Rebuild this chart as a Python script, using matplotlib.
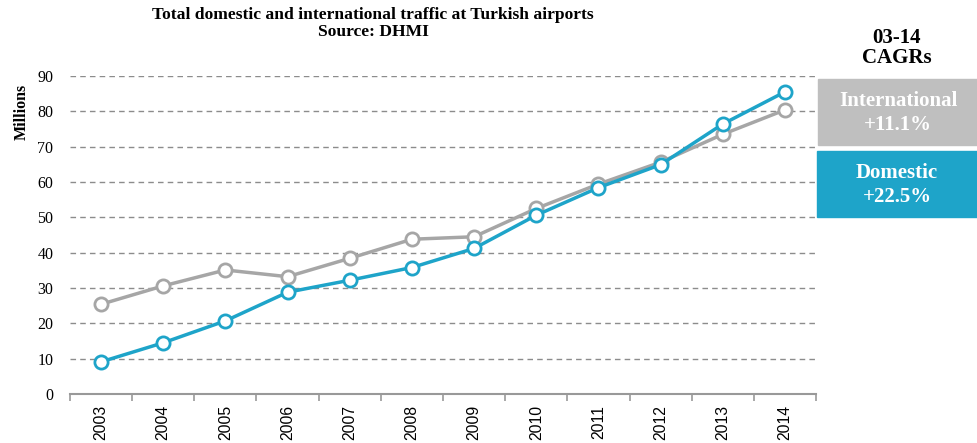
import matplotlib
matplotlib.use("Agg")
import matplotlib.pyplot as plt
from matplotlib.patches import Rectangle
import numpy as np

years = ["2003", "2004", "2005", "2006", "2007", "2008", "2009", "2010", "2011", "2012", "2013", "2014"]
domestic = [9.1, 14.5, 20.7, 28.8, 32.2, 35.8, 41.2, 50.6, 58.4, 64.9, 76.4, 85.5]
international = [25.4, 30.6, 35.1, 33.2, 38.4, 43.8, 44.5, 52.5, 59.4, 65.6, 73.5, 80.4]
yticks = [0, 10, 20, 30, 40, 50, 60, 70, 80, 90]
title_lines = ["Total domestic and international traffic at Turkish airports", "Source: DHMI"]
cagr_title = ["03-14", "CAGRs"]
cagr_labels = [["International", "+11.1%"], ["Domestic", "+22.5%"]]

BLUE = "#1ea4c9"
GRAY = "#a6a6a6"
BOXGRAY = "#bfbfbf"
SERIF = ["Liberation Serif", "DejaVu Serif"]

W, H = 978, 443
fig = plt.figure(figsize=(W / 100, H / 100), dpi=100)
ax = fig.add_axes([70 / W, 1 - 394 / H, (816 - 70) / W, (394 - 76) / H])

x = np.arange(len(years))
ax.plot(x, international, color=GRAY, lw=2.5, marker="o", ms=9.5, mfc="white",
        mec=GRAY, mew=2.0, zorder=3)
ax.plot(x, domestic, color=BLUE, lw=2.5, marker="o", ms=9.5, mfc="white",
        mec=BLUE, mew=2.0, zorder=4)

ax.set_xlim(-0.5, len(years) - 0.5)
ax.set_ylim(0, 90)
ax.set_yticks(yticks)
ax.set_yticklabels([str(v) for v in yticks], fontsize=11.5, family=SERIF)
for v in yticks[1:]:
    ax.axhline(v, color="#8c8c8c", lw=1.0, ls=(0, (4, 3)), zorder=1)

ax.set_xticks(x)
ax.set_xticklabels(years, rotation=90, fontsize=11.3, family=["Liberation Sans", "DejaVu Sans"])
ax.set_xticks(np.arange(-0.5, len(years), 1.0), minor=True)
ax.tick_params(axis="x", which="major", length=0, pad=8)
ax.tick_params(axis="x", which="minor", length=5, color="#999999", width=1.2)
ax.tick_params(axis="y", length=0, pad=12)
for s in ["top", "right", "left"]:
    ax.spines[s].set_visible(False)
ax.spines["bottom"].set_color("#999999")
ax.spines["bottom"].set_linewidth(1.5)

fig.text(22 / W, 1 - 112 / H, "Millions", rotation=90, ha="center", va="center",
         fontsize=11.5, fontweight="bold", family=SERIF)

fig.text(373 / W, 1 - 15 / H, title_lines[0], ha="center", va="center",
         fontsize=12.6, fontweight="bold", family=SERIF)
fig.text(373 / W, 1 - 32 / H, title_lines[1], ha="center", va="center",
         fontsize=12.6, fontweight="bold", family=SERIF)

fig.text(897 / W, 1 - 38 / H, cagr_title[0], ha="center", va="center",
         fontsize=15, fontweight="bold", family=SERIF)
fig.text(897 / W, 1 - 58 / H, cagr_title[1], ha="center", va="center",
         fontsize=15, fontweight="bold", family=SERIF)

boxes = [(818, 79, 978, 145, BOXGRAY), (817, 151, 977, 217, BLUE)]
for (x0, y0, x1, y1, c), lab in zip(boxes, cagr_labels):
    fig.patches.append(Rectangle((x0 / W, 1 - y1 / H), (x1 - x0) / W, (y1 - y0) / H,
                                 transform=fig.transFigure, color=c, zorder=0))
    cx = (x0 + x1) / 2 / W
    cy = (y0 + y1) / 2
    fig.text(cx, 1 - (cy - 11) / H, lab[0], ha="center", va="center",
             fontsize=15, fontweight="bold", color="white", family=SERIF)
    fig.text(cx, 1 - (cy + 13) / H, lab[1], ha="center", va="center",
             fontsize=15, fontweight="bold", color="white", family=SERIF)

fig.savefig("out.png", dpi=100)
